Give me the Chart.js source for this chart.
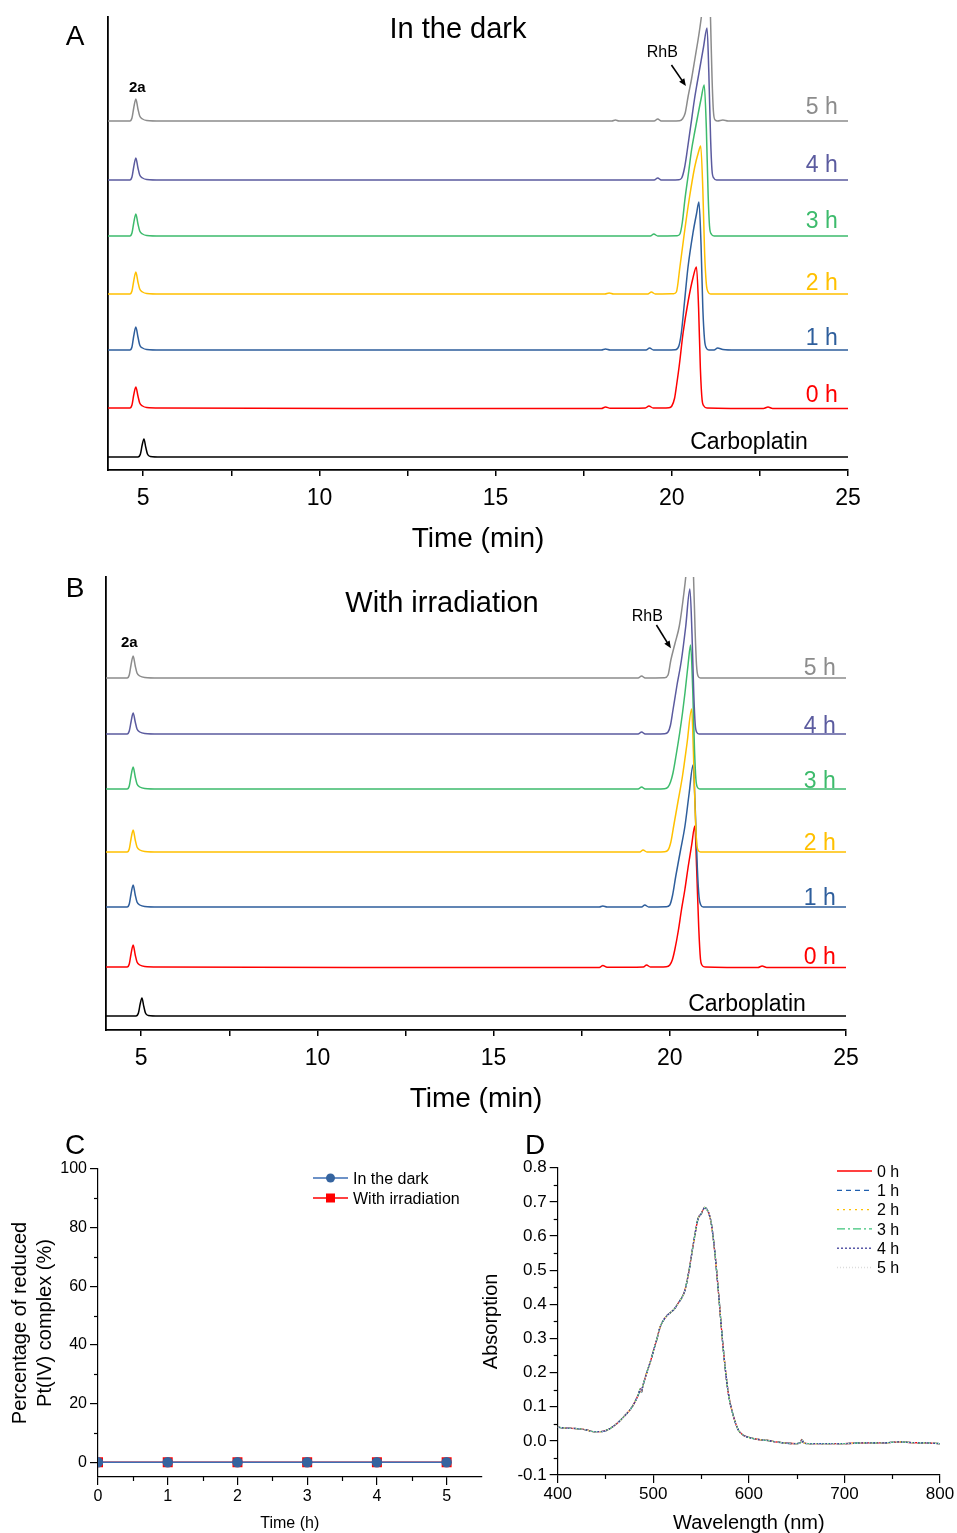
<!DOCTYPE html>
<html>
<head>
<meta charset="utf-8">
<title>HPLC stability of 2a</title>
<script src="https://cdn.jsdelivr.net/npm/chart.js@4.4.1/dist/chart.umd.min.js"></script>
<style>
    body { margin: 0; background: #fff; }
    #fig { position: relative; width: 957px; height: 1533px; overflow: hidden; background: #fff; }
    #fig canvas { position: absolute; }
</style>
</head>
<body>
<div id="fig">
    <canvas id="chartA" width="957" height="560" style="left:0;top:0"></canvas>
    <canvas id="chartB" width="957" height="560" style="left:0;top:560px"></canvas>
    <canvas id="chartC" width="490" height="403" style="left:0;top:1130px"></canvas>
    <canvas id="chartD" width="487" height="403" style="left:470px;top:1130px"></canvas>
</div>
<script>
// ---- datos ----

// trazas de HPLC (orden: Carboplatin, 0 h ... 5 h)
const traceLabels = ['Carboplatin', '0 h', '1 h', '2 h', '3 h', '4 h', '5 h'];
const timeTicks = [5, 7.5, 10, 12.5, 15, 17.5, 20, 22.5, 25];

// A: en la oscuridad  [tiempo (min), señal]
const darkCarboplatin = [[4, 0], [4.85, 0], [4.92, 3], [4.97, 12], [5.02, 18], [5.07, 10], [5.12, 3], [5.2, 0.5], [5.5, 0], [25, 0]];
const dark0h = [[4, 0], [4.62, 0], [4.68, 3], [4.73, 13], [4.79, 21], [4.85, 12], [4.9, 5], [4.98, 2], [5.1, 0.5], [5.5, 0], [12, -0.5], [18.0, -0.5], [18.12, 1], [18.25, -0.3], [19.25, 0], [19.35, 2], [19.47, 0], [19.92, 0.3], [20.0, 2], [20.08, 10], [20.14, 24], [20.21, 42], [20.32, 75], [20.47, 108], [20.6, 130], [20.7, 141], [20.76, 100], [20.81, 40], [20.86, 8], [20.91, 2], [21.0, 0], [22.6, -0.5], [22.73, 1], [22.86, -0.5], [25, -0.5]];
const dark1h = [[4, 0], [4.62, 0], [4.68, 3], [4.73, 14], [4.79, 23], [4.85, 13], [4.9, 5], [4.98, 2], [5.1, 0.5], [5.5, 0], [18.0, 0], [18.12, 1], [18.25, 0], [19.27, 0], [19.37, 2], [19.48, 0], [20.1, 0.3], [20.2, 4], [20.27, 17], [20.36, 48], [20.46, 83], [20.6, 117], [20.7, 136], [20.77, 148], [20.83, 105], [20.88, 42], [20.93, 10], [20.98, 2], [21.05, 0], [21.2, 0], [21.3, 2], [21.45, 0.5], [21.8, 0], [25, 0]];
const dark2h = [[4, 0], [4.62, 0], [4.68, 3], [4.73, 13], [4.79, 22], [4.85, 12], [4.9, 5], [4.98, 2], [5.1, 0.5], [5.5, 0], [18.1, 0], [18.22, 1], [18.35, 0], [19.32, 0], [19.42, 2], [19.53, 0], [20.05, 0.3], [20.13, 2], [20.23, 27], [20.36, 62], [20.49, 94], [20.65, 127], [20.75, 141], [20.82, 148], [20.88, 105], [20.93, 42], [20.98, 10], [21.03, 2], [21.1, 0], [25, 0]];
const dark3h = [[4, 0], [4.62, 0], [4.68, 3], [4.73, 13], [4.79, 22], [4.85, 12], [4.9, 5], [4.98, 2], [5.1, 0.5], [5.5, 0], [19.39, 0], [19.49, 2], [19.6, 0], [20.15, 0.3], [20.23, 2], [20.3, 14], [20.37, 36], [20.47, 62], [20.56, 86], [20.65, 104], [20.73, 119], [20.83, 137], [20.92, 151], [20.98, 108], [21.03, 42], [21.07, 10], [21.12, 2], [21.2, 0], [25, 0]];
const dark4h = [[4, 0], [4.62, 0], [4.68, 3], [4.73, 13], [4.79, 22], [4.85, 12], [4.9, 5], [4.98, 2], [5.1, 0.5], [5.5, 0], [19.5, 0], [19.6, 2], [19.7, 0], [20.2, 0.3], [20.28, 2], [20.36, 12], [20.44, 30], [20.54, 55], [20.64, 80], [20.72, 97], [20.8, 113], [20.9, 133], [21.0, 152], [21.05, 108], [21.1, 42], [21.14, 10], [21.19, 2], [21.27, 0], [25, 0]];
const dark5h = [[4, 0], [4.62, 0], [4.68, 3], [4.73, 13], [4.79, 22], [4.85, 12], [4.9, 5], [4.98, 2], [5.1, 0.5], [5.5, 0], [18.3, 0], [18.4, 1], [18.5, 0], [19.5, 0], [19.6, 2], [19.7, 0], [20.22, 0.3], [20.3, 2], [20.38, 8], [20.46, 24], [20.56, 42], [20.65, 61], [20.74, 80], [20.8, 94], [20.86, 110], [20.95, 140], [21.03, 165], [21.07, 140], [21.1, 100], [21.14, 45], [21.18, 10], [21.23, 1], [21.3, 0], [21.45, 1], [21.6, 0], [25, 0]];

// B: con irradiación
const lightCarboplatin = [[4, 0], [4.85, 0], [4.92, 3], [4.97, 12], [5.02, 18], [5.07, 10], [5.12, 3], [5.2, 0.5], [5.5, 0], [25, 0]];
const light0h = [[4, 0], [4.6, 0], [4.66, 3], [4.71, 13], [4.77, 22], [4.83, 12], [4.88, 5], [4.96, 2], [5.1, 0.5], [5.5, 0], [12, -0.5], [18.0, -0.5], [18.1, 1.5], [18.22, -0.3], [19.25, 0], [19.34, 2], [19.45, 0], [19.9, 0.3], [20.0, 2], [20.07, 7], [20.14, 17], [20.24, 36], [20.33, 57], [20.43, 78], [20.52, 100], [20.62, 122], [20.71, 141], [20.76, 100], [20.82, 40], [20.87, 8], [20.91, 2], [21.0, 0], [22.5, -0.5], [22.62, 1], [22.75, -0.5], [25, -0.5]];
const light1h = [[4, 0], [4.6, 0], [4.66, 3], [4.71, 13], [4.77, 22], [4.83, 12], [4.88, 5], [4.96, 2], [5.1, 0.5], [5.5, 0], [18.0, 0], [18.1, 1], [18.22, 0], [19.2, 0], [19.29, 2], [19.4, 0], [19.9, 0.3], [20.0, 2], [20.08, 12], [20.17, 31], [20.3, 56], [20.43, 81], [20.55, 114], [20.66, 142], [20.72, 100], [20.78, 40], [20.83, 10], [20.88, 2], [20.95, 0], [25, 0]];
const light2h = [[4, 0], [4.6, 0], [4.66, 3], [4.71, 13], [4.77, 22], [4.83, 12], [4.88, 5], [4.96, 2], [5.1, 0.5], [5.5, 0], [19.15, 0], [19.24, 2], [19.35, 0], [19.85, 0.3], [19.95, 2], [20.03, 10], [20.11, 26], [20.23, 50], [20.36, 76], [20.49, 109], [20.62, 143], [20.67, 100], [20.72, 40], [20.76, 10], [20.8, 2], [20.87, 0], [25, 0]];
const light3h = [[4, 0], [4.6, 0], [4.66, 3], [4.71, 13], [4.77, 22], [4.83, 12], [4.88, 5], [4.96, 2], [5.1, 0.5], [5.5, 0], [19.1, 0], [19.2, 2], [19.3, 0], [19.85, 0.3], [19.95, 2], [20.02, 7], [20.09, 16], [20.18, 34], [20.28, 56], [20.36, 76], [20.43, 96], [20.52, 125], [20.59, 144], [20.65, 100], [20.7, 40], [20.74, 10], [20.78, 2], [20.85, 0], [25, 0]];
const light4h = [[4, 0], [4.6, 0], [4.66, 3], [4.71, 12], [4.77, 21], [4.83, 12], [4.88, 5], [4.96, 2], [5.1, 0.5], [5.5, 0], [19.1, 0], [19.2, 2], [19.3, 0], [19.85, 0.3], [19.95, 2], [20.02, 9], [20.09, 24], [20.2, 48], [20.33, 74], [20.45, 107], [20.57, 145], [20.63, 100], [20.68, 40], [20.72, 10], [20.76, 2], [20.83, 0], [25, 0]];
const light5h = [[4, 0], [4.6, 0], [4.66, 3], [4.71, 13], [4.77, 22], [4.83, 12], [4.88, 5], [4.96, 2], [5.1, 0.5], [5.5, 0], [19.1, 0], [19.2, 2], [19.3, 0], [19.85, 0.3], [19.95, 3], [20.03, 18], [20.15, 35], [20.27, 52], [20.4, 85], [20.47, 108], [20.52, 135], [20.57, 165], [20.62, 140], [20.67, 105], [20.72, 45], [20.76, 12], [20.8, 2], [20.87, 0], [25, 0]];

// C: porcentaje de complejo Pt(IV) reducido
const timeHours = [0, 1, 2, 3, 4, 5];
const reducedDark = [0, 0, 0, 0, 0, 0];
const reducedIrradiated = [0, 0, 0, 0, 0, 0];
const percentTicks = [0, 20, 40, 60, 80, 100];
const hourTicks = [0, 1, 2, 3, 4, 5];

// D: espectros de absorción (las seis curvas coinciden)
const spectrumLabels = ['0 h', '1 h', '2 h', '3 h', '4 h', '5 h'];
const wavelength = [400, 410, 420, 430, 437, 445, 452, 458, 464, 470, 476, 481, 485, 486.5, 487.5, 489, 493, 497, 500, 504, 507, 510, 514, 518, 522, 526, 530, 533, 537, 542, 547, 550, 552, 554, 556, 558, 561, 564.5, 568, 573, 578.5, 584, 589, 594, 600, 610, 620, 630, 640, 650, 654, 655.5, 657, 662, 680, 700, 720, 740, 758, 770, 785, 800];
const absorbance = [0.040, 0.037, 0.036, 0.032, 0.027, 0.027, 0.032, 0.042, 0.056, 0.073, 0.092, 0.115, 0.140, 0.152, 0.142, 0.160, 0.198, 0.232, 0.262, 0.300, 0.332, 0.350, 0.366, 0.376, 0.386, 0.403, 0.420, 0.440, 0.492, 0.578, 0.652, 0.664, 0.676, 0.684, 0.678, 0.668, 0.632, 0.549, 0.442, 0.276, 0.140, 0.071, 0.032, 0.017, 0.010, 0.004, 0.001, -0.004, -0.007, -0.008, -0.005, 0.004, -0.005, -0.008, -0.008, -0.008, -0.006, -0.006, -0.003, -0.005, -0.006, -0.008];
const absTicks = [-0.1, 0, 0.1, 0.2, 0.3, 0.4, 0.5, 0.6, 0.7, 0.8];
const wavelengthTicks = [400, 500, 600, 700, 800];

// ---- estilo ----
const FONT = '"Liberation Sans", Arial, Helvetica, sans-serif';
const traceColors = ['#000000', '#ff0000', '#2e5e9c', '#ffc000', '#3dbb6c', '#5b5b9f', '#8c8c8c'];
const spectrumColors = ['#ff0000', '#1f5fae', '#ffc000', '#3cc47a', '#3f3f9a', '#dcdcdc'];
const spectrumDash = [[], [5, 4], [2, 4], [8, 3, 2, 3], [2, 2], [1, 2]];

document.addEventListener('DOMContentLoaded', function() {
    Chart.defaults.font.family = FONT;
    Chart.defaults.color = '#000';

    function font(size, lineHeight) {
        return { family: FONT, size: size, lineHeight: lineHeight || 1.2 };
    }

    // 'middle' deja el texto un poco alto: se corrige con un pequeño desplazamiento
    function drawText(ctx, str, x, y, size, color, align, weight) {
        ctx.save();
        ctx.font = (weight || 'normal') + ' ' + size + 'px ' + FONT;
        ctx.fillStyle = color || '#000';
        ctx.textAlign = align || 'center';
        ctx.textBaseline = 'middle';
        ctx.fillText(str, x, y + size * 0.08);
        ctx.restore();
    }

    function drawArrow(ctx, x1, y1, x2, y2) {
        const ang = Math.atan2(y2 - y1, x2 - x1);
        ctx.save();
        ctx.strokeStyle = '#000';
        ctx.fillStyle = '#000';
        ctx.lineWidth = 1.6;
        ctx.beginPath();
        ctx.moveTo(x1, y1);
        ctx.lineTo(x2 - 5 * Math.cos(ang), y2 - 5 * Math.sin(ang));
        ctx.stroke();
        ctx.beginPath();
        ctx.moveTo(x2, y2);
        ctx.lineTo(x2 - 8 * Math.cos(ang - 0.4), y2 - 8 * Math.sin(ang - 0.4));
        ctx.lineTo(x2 - 8 * Math.cos(ang + 0.4), y2 - 8 * Math.sin(ang + 0.4));
        ctx.closePath();
        ctx.fill();
        ctx.restore();
    }

    /**
     * Marcas menores (más cortas) dibujadas con las escalas del gráfico
     */
    function minorTicks(specs) {
        return {
            id: 'minorTicks',
            afterDraw: function(chart) {
                const ctx = chart.ctx;
                ctx.save();
                ctx.strokeStyle = '#000';
                ctx.lineWidth = 1.2;
                specs.forEach(function(spec) {
                    const s = chart.scales[spec.axis];
                    spec.values.forEach(function(v) {
                        const p = Math.round(s.getPixelForValue(v)) + 0.5;
                        ctx.beginPath();
                        if (s.isHorizontal()) {
                            ctx.moveTo(p, s.top);
                            ctx.lineTo(p, s.top + spec.length);
                        } else {
                            ctx.moveTo(s.right, p);
                            ctx.lineTo(s.right - spec.length, p);
                        }
                        ctx.stroke();
                    });
                });
                ctx.restore();
            }
        };
    }

    /**
     * Cromatograma apilado (paneles A y B)
     */
    function buildChromatogram(canvasId, traces, offsets, panel) {
        const datasets = traces.map(function(pts, i) {
            return {
                label: traceLabels[i],
                data: pts.map(function(p) { return { x: p[0], y: p[1] + offsets[i] }; }),
                borderColor: traceColors[i],
                borderWidth: 1.5,
                pointRadius: 0,
                cubicInterpolationMode: 'monotone',
                order: -i
            };
        });

        const panelText = {
            id: 'panelText',
            afterDraw: function(chart) {
                const ctx = chart.ctx;
                const xs = chart.scales.x;
                const ys = chart.scales.y;
                const px = function(t) { return xs.getPixelForValue(t); };
                const py = function(v) { return ys.getPixelForValue(v); };

                drawText(ctx, panel.letter, 75, panel.letterY, 28);
                drawText(ctx, panel.title, panel.titleX, panel.titleY, 29);
                traceLabels.forEach(function(lab, i) {
                    const t = i === 0 ? 23.86 : 24.71;
                    drawText(ctx, lab, px(t), py(panel.labelY[i]), 23, traceColors[i], 'right');
                });
                drawText(ctx, '2a', px(panel.note2a[0]), py(panel.note2a[1]), 15, '#000', 'center', 'bold');
                drawText(ctx, 'RhB', px(panel.rhb[0]), py(panel.rhb[1]), 16);
                const a = panel.arrow;
                drawArrow(ctx, px(a[0]), py(a[1]), px(a[2]), py(a[3]));
            }
        };

        return new Chart(document.getElementById(canvasId), {
            type: 'line',
            data: { datasets: datasets },
            options: {
                responsive: false,
                animation: false,
                events: [],
                layout: { padding: { left: 0, top: 17, right: panel.padRight, bottom: 0 } },
                plugins: { legend: { display: false }, tooltip: { enabled: false } },
                scales: {
                    x: {
                        type: 'linear',
                        min: 4,
                        max: 25,
                        afterBuildTicks: function(s) { s.ticks = timeTicks.map(function(v) { return { value: v }; }); },
                        afterFit: function(s) { s.height = 90; },
                        ticks: {
                            callback: function(v) { return v % 5 === 0 ? String(v) : ''; },
                            font: font(23),
                            color: '#000',
                            padding: 9,
                            autoSkip: false,
                            maxRotation: 0
                        },
                        grid: { drawOnChartArea: false, drawTicks: true, tickLength: 6, color: '#000', lineWidth: 1.5 },
                        border: { display: true, color: '#000', width: 1.8 },
                        title: { display: true, text: 'Time (min)', font: font(28), color: '#000', padding: { top: 0, bottom: 4 } }
                    },
                    y: {
                        min: 0,
                        max: 453,
                        afterFit: function(s) { s.width = panel.left; },
                        ticks: { display: false },
                        grid: { display: false },
                        border: { display: true, color: '#000', width: 1.8 }
                    }
                }
            },
            plugins: [panelText]
        });
    }

    buildChromatogram('chartA',
        [darkCarboplatin, dark0h, dark1h, dark2h, dark3h, dark4h, dark5h],
        [13, 62, 120, 176, 234, 290, 349],
        {
            letter: 'A', letterY: 35, title: 'In the dark', titleX: 458, titleY: 28,
            left: 108, padRight: 109,
            labelY: [29, 76, 133, 188, 250, 306, 364],
            note2a: [4.83, 383], rhb: [19.73, 418.5], arrow: [19.99, 405, 20.4, 384]
        });

    buildChromatogram('chartB',
        [lightCarboplatin, light0h, light1h, light2h, light3h, light4h, light5h],
        [14, 63, 123, 178, 241, 296, 352],
        {
            letter: 'B', letterY: 27, title: 'With irradiation', titleX: 442, titleY: 42,
            left: 106, padRight: 111,
            labelY: [27, 74, 133.5, 188.5, 250, 305, 363.5],
            note2a: [4.66, 388], rhb: [19.36, 415], arrow: [19.62, 405, 20.03, 381.7]
        });

    /**
     * Panel C: porcentaje de Pt(IV) reducido
     */
    const legendC = {
        id: 'legendC',
        afterDraw: function(chart) {
            const ctx = chart.ctx;
            drawText(ctx, 'C', 75, 14, 28);
            chart.data.datasets.forEach(function(ds, i) {
                const y = 48 + i * 20;
                ctx.save();
                ctx.strokeStyle = ds.borderColor;
                ctx.lineWidth = 1.5;
                ctx.beginPath();
                ctx.moveTo(313, y);
                ctx.lineTo(348, y);
                ctx.stroke();
                ctx.fillStyle = ds.pointBackgroundColor;
                if (ds.pointStyle === 'rect') {
                    ctx.fillRect(326, y - 4.5, 9, 9);
                } else {
                    ctx.beginPath();
                    ctx.arc(330.5, y, 4.5, 0, Math.PI * 2);
                    ctx.fill();
                }
                ctx.restore();
                drawText(ctx, ds.label, 353, y, 16, '#000', 'left');
            });
        }
    };

    new Chart(document.getElementById('chartC'), {
        type: 'line',
        data: {
            datasets: [
                {
                    label: 'In the dark',
                    data: timeHours.map(function(t, i) { return { x: t, y: reducedDark[i] }; }),
                    borderColor: '#3d6eb4',
                    borderWidth: 1.5,
                    pointStyle: 'circle',
                    pointRadius: 4.5,
                    pointBackgroundColor: '#35649f',
                    pointBorderColor: '#35649f'
                },
                {
                    label: 'With irradiation',
                    data: timeHours.map(function(t, i) { return { x: t, y: reducedIrradiated[i] }; }),
                    borderColor: '#ff0000',
                    borderWidth: 1.5,
                    pointStyle: 'rect',
                    pointRadius: 6,
                    pointBackgroundColor: '#ff0000',
                    pointBorderColor: '#ff0000'
                }
            ]
        },
        options: {
            responsive: false,
            animation: false,
            events: [],
            layout: { padding: { left: 0, top: 39, right: 8.5, bottom: 0 } },
            plugins: { legend: { display: false }, tooltip: { enabled: false } },
            scales: {
                x: {
                    type: 'linear',
                    min: 0,
                    max: 5.5,
                    afterBuildTicks: function(s) { s.ticks = hourTicks.map(function(v) { return { value: v }; }); },
                    afterFit: function(s) { s.height = 56; },
                    ticks: { font: font(16), color: '#000', padding: 1.5, autoSkip: false, maxRotation: 0 },
                    grid: { drawOnChartArea: false, tickLength: 8, color: '#000', lineWidth: 1.2 },
                    border: { color: '#000', width: 1.2 },
                    title: { display: true, text: 'Time (h)', font: font(16), color: '#000', padding: { top: 0, bottom: 0 } }
                },
                y: {
                    min: -5,
                    max: 100,
                    afterBuildTicks: function(s) { s.ticks = percentTicks.map(function(v) { return { value: v }; }); },
                    afterFit: function(s) { s.width = 98; },
                    ticks: { font: font(16), color: '#000', padding: 3 },
                    grid: { drawOnChartArea: false, tickLength: 8, color: '#000', lineWidth: 1.2 },
                    border: { color: '#000', width: 1.2 },
                    title: {
                        display: true,
                        text: ['Percentage of reduced', 'Pt(IV) complex (%)'],
                        font: font(20, 1.25),
                        color: '#000',
                        padding: { top: 7.5, bottom: 0 }
                    }
                }
            }
        },
        plugins: [
            minorTicks([
                { axis: 'x', values: [0.5, 1.5, 2.5, 3.5, 4.5], length: 4 },
                { axis: 'y', values: [10, 30, 50, 70, 90], length: 4 }
            ]),
            legendC
        ]
    });

    /**
     * Panel D: espectros UV-Vis
     */
    const legendD = {
        id: 'legendD',
        afterDraw: function(chart) {
            const ctx = chart.ctx;
            drawText(ctx, 'D', 65, 14, 28);
            chart.data.datasets.forEach(function(ds, i) {
                const y = 41 + i * 19.3;
                ctx.save();
                ctx.strokeStyle = ds.borderColor;
                ctx.lineWidth = 1.3;
                ctx.setLineDash(ds.borderDash);
                ctx.beginPath();
                ctx.moveTo(367, y);
                ctx.lineTo(402, y);
                ctx.stroke();
                ctx.restore();
                drawText(ctx, ds.label, 407, y, 16, '#000', 'left');
            });
        }
    };

    new Chart(document.getElementById('chartD'), {
        type: 'line',
        data: {
            datasets: spectrumLabels.map(function(lab, i) {
                return {
                    label: lab,
                    data: wavelength.map(function(w, j) { return { x: w, y: absorbance[j] }; }),
                    borderColor: spectrumColors[i],
                    borderDash: spectrumDash[i],
                    borderWidth: 1.3,
                    pointRadius: 0,
                    cubicInterpolationMode: 'monotone',
                    order: -i
                };
            })
        },
        options: {
            responsive: false,
            animation: false,
            events: [],
            layout: { padding: { left: 0, top: 37.7, right: 17, bottom: 0 } },
            plugins: { legend: { display: false }, tooltip: { enabled: false } },
            scales: {
                x: {
                    type: 'linear',
                    min: 400,
                    max: 800,
                    afterBuildTicks: function(s) { s.ticks = wavelengthTicks.map(function(v) { return { value: v }; }); },
                    afterFit: function(s) { s.height = 58; },
                    ticks: { font: font(17), color: '#000', padding: 1, autoSkip: false, maxRotation: 0 },
                    grid: { drawOnChartArea: false, tickLength: 8, color: '#000', lineWidth: 1.2 },
                    border: { color: '#000', width: 1.2 },
                    title: { display: true, text: 'Wavelength (nm)', font: font(20), color: '#000', padding: { top: 0, bottom: -2 } }
                },
                y: {
                    min: -0.1,
                    max: 0.8,
                    afterBuildTicks: function(s) { s.ticks = absTicks.map(function(v) { return { value: v }; }); },
                    afterFit: function(s) { s.width = 87.7; },
                    ticks: {
                        callback: function(v) { return v.toFixed(1); },
                        font: font(17),
                        color: '#000',
                        padding: 3
                    },
                    grid: { drawOnChartArea: false, tickLength: 8, color: '#000', lineWidth: 1.2 },
                    border: { color: '#000', width: 1.2 },
                    title: { display: true, text: 'Absorption', font: font(20), color: '#000', padding: { top: 9, bottom: 0 } }
                }
            }
        },
        plugins: [
            minorTicks([
                { axis: 'x', values: [450, 550, 650, 750], length: 4 },
                { axis: 'y', values: [-0.05, 0.05, 0.15, 0.25, 0.35, 0.45, 0.55, 0.65, 0.75], length: 4 }
            ]),
            legendD
        ]
    });
});
</script>
</body>
</html>
